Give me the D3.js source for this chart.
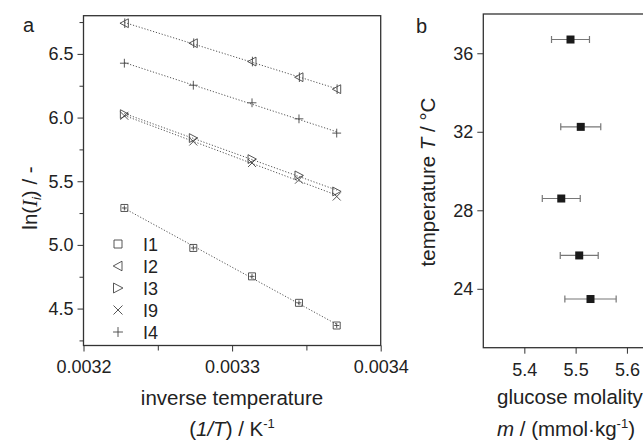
<!DOCTYPE html>
<html>
<head>
    <meta charset="utf-8">
    <title>Inverse temperature and glucose molality</title>
    <script src="https://d3js.org/d3.v7.min.js"></script>
    <style>
        body { margin: 0; background: #fff; }
        text { font-family: "Liberation Sans", Arial, sans-serif; fill: #222; }
    </style>
</head>
<body>
    <div id="chart"></div>
    <script>
        // panel a: ln(I) against 1/T
        const invT = [0.0032275, 0.0032739, 0.0033134, 0.003345, 0.0033704];
        const seriesNames = ["I1", "I2", "I3", "I9", "I4"];
        const lnI1 = [5.29, 4.976, 4.753, 4.545, 4.367];
        const lnI2 = [6.741, 6.584, 6.44, 6.317, 6.223];
        const lnI3 = [6.027, 5.839, 5.674, 5.546, 5.42];
        const lnI9 = [6.014, 5.812, 5.643, 5.512, 5.38];
        const lnI4 = [6.427, 6.254, 6.116, 5.99, 5.878];
        const xTicksA = [0.0032, 0.0033, 0.0034];
        const yTicksA = [4.5, 5.0, 5.5, 6.0, 6.5];

        // panel b: temperature against glucose molality
        const temps = [36.7, 32.25, 28.6, 25.7, 23.48];
        const molality = [5.49, 5.51, 5.472, 5.507, 5.529];
        const molalityErr = [0.037, 0.039, 0.037, 0.037, 0.05];
        const xTicksB = [5.4, 5.5, 5.6];
        const yTicksB = [24, 28, 32, 36];

        const seriesValues = [lnI1, lnI2, lnI3, lnI9, lnI4];
        const symbols = ["square", "left", "right", "cross", "plus"];

        const TICK_FONT = "18px";
        const TITLE_FONT = "20.5px";

        const svg = d3.select("#chart").append("svg")
            .attr("width", 643)
            .attr("height", 441);

        // ---------- panel a ----------
        const xa = d3.scaleLinear().domain([0.0032, 0.0034]).range([83.5, 380.7]);
        const ya = d3.scaleLinear().domain([4.21, 6.8]).range([345.5, 15.7]);

        const ga = svg.append("g");

        // minor ticks
        ga.append("g")
            .attr("transform", "translate(0,345.5)")
            .call(d3.axisBottom(xa).tickValues([0.00325, 0.00335]).tickSize(5).tickFormat(""))
            .call(g => g.select(".domain").remove());
        ga.append("g")
            .attr("transform", "translate(83.5,0)")
            .call(d3.axisLeft(ya).tickValues([4.25, 4.75, 5.25, 5.75, 6.25, 6.75]).tickSize(4).tickFormat(""))
            .call(g => g.select(".domain").remove());

        const axA = ga.append("g")
            .attr("transform", "translate(0,345.5)")
            .call(d3.axisBottom(xa).tickValues(xTicksA).tickSize(6).tickPadding(9).tickFormat(d3.format(".4f")));
        const ayA = ga.append("g")
            .attr("transform", "translate(83.5,0)")
            .call(d3.axisLeft(ya).tickValues(yTicksA).tickSize(6).tickPadding(4).tickFormat(d3.format(".1f")));
        [axA, ayA].forEach(a => {
            a.select(".domain").remove();
            a.selectAll("text").style("font-size", TICK_FONT).attr("fill", "#222")
                .style("font-family", "'Liberation Sans', Arial, sans-serif");
        });
        ga.selectAll(".tick line").attr("stroke", "#333");

        ga.append("rect")
            .attr("x", xa.range()[0]).attr("y", ya.range()[1])
            .attr("width", xa.range()[1] - xa.range()[0])
            .attr("height", ya.range()[0] - ya.range()[1])
            .attr("fill", "none").attr("stroke", "#333").attr("stroke-width", 1.3);

        function symbolPath(kind, s) {
            const h = s / 2;
            const crossIn = `M0,${-h * 0.7}V${h * 0.7}M${-h * 0.7},0H${h * 0.7}`;
            if (kind === "square") return `M${-h},${-h}H${h}V${h}H${-h}Z` + crossIn;
            if (kind === "left") return `M${-h * 1.1},0L${h},${-h * 1.1}L${h},${h * 1.1}Z` + `M${h * 0.1},${-h * 1.2}V${h * 1.2}`;
            if (kind === "right") return `M${h * 1.1},0L${-h},${-h * 1.1}L${-h},${h * 1.1}Z`;
            if (kind === "cross") return `M${-h},${-h}L${h},${h}M${-h},${h}L${h},${-h}`;
            return `M${-h * 1.1},0H${h * 1.1}M0,${-h * 1.1}V${h * 1.1}`;
        }

        // fitted dotted lines
        seriesValues.forEach(vals => {
            const mx = d3.mean(invT), my = d3.mean(vals);
            const slope = d3.sum(invT, (x, i) => (x - mx) * (vals[i] - my)) /
                d3.sum(invT, x => (x - mx) * (x - mx));
            const x0 = invT[0], x1 = invT[invT.length - 1];
            ga.append("line")
                .attr("x1", xa(x0)).attr("y1", ya(my + slope * (x0 - mx)))
                .attr("x2", xa(x1)).attr("y2", ya(my + slope * (x1 - mx)))
                .attr("stroke", "#555").attr("stroke-width", 1)
                .attr("stroke-dasharray", "1.2,1.8");
        });

        seriesValues.forEach((vals, k) => {
            const sz = symbols[k] === "square" ? 7 : 8;
            ga.selectAll(null)
                .data(vals)
                .enter()
                .append("path")
                .attr("transform", (d, i) => `translate(${xa(invT[i])},${ya(d)})`)
                .attr("d", symbolPath(symbols[k], sz))
                .attr("fill", "none")
                .attr("stroke", "#444")
                .attr("stroke-width", 0.9);
        });

        // legend
        const leg = ga.append("g");
        seriesNames.forEach((name, k) => {
            const y = 244 + k * 22;
            const kind = symbols[k];
            let d;
            const h = 4;
            if (kind === "square") d = `M${-h},${-h}H${h}V${h}H${-h}Z`;
            else if (kind === "left") d = `M${-h * 1.2},0L${h},${-h * 1.2}L${h},${h * 1.2}Z`;
            else d = symbolPath(kind, 9);
            leg.append("path")
                .attr("transform", `translate(118,${y})`)
                .attr("d", d)
                .attr("fill", "none").attr("stroke", "#444").attr("stroke-width", 0.9);
            leg.append("text")
                .attr("x", 143).attr("y", y + 6.5)
                .style("font-size", "18px")
                .text(name);
        });

        svg.append("text").attr("x", 23).attr("y", 32).style("font-size", "20px").text("a");

        const yTitleA = svg.append("text")
            .attr("transform", "translate(37,198) rotate(-90)")
            .attr("text-anchor", "middle")
            .style("font-size", TITLE_FONT);
        yTitleA.append("tspan").text("ln(");
        yTitleA.append("tspan").style("font-style", "italic").style("font-family", "'Liberation Serif', serif").text("I");
        yTitleA.append("tspan").attr("dy", 4).style("font-size", "13px").style("font-style", "italic").text("i");
        yTitleA.append("tspan").attr("dy", -4).text(") / -");

        svg.append("text")
            .attr("x", 232).attr("y", 405)
            .attr("text-anchor", "middle")
            .style("font-size", TITLE_FONT)
            .text("inverse temperature");
        const xTitleA2 = svg.append("text")
            .attr("x", 232).attr("y", 436)
            .attr("text-anchor", "middle")
            .style("font-size", TITLE_FONT);
        xTitleA2.append("tspan").text("(");
        xTitleA2.append("tspan").style("font-style", "italic").text("1/T");
        xTitleA2.append("tspan").text(") / K");
        xTitleA2.append("tspan").attr("dy", -8).style("font-size", "13px").text("-1");

        // ---------- panel b ----------
        const xb = d3.scaleLinear().domain([5.32, 5.66]).range([483.3, 657.7]);
        const yb = d3.scaleLinear().domain([21, 38]).range([347.7, 14]);

        const gb = svg.append("g");
        const axB = gb.append("g")
            .attr("transform", "translate(0,347.7)")
            .call(d3.axisBottom(xb).tickValues(xTicksB).tickSize(6).tickPadding(10).tickFormat(d3.format(".1f")));
        const ayB = gb.append("g")
            .attr("transform", "translate(483.3,0)")
            .call(d3.axisLeft(yb).tickValues(yTicksB).tickSize(6).tickPadding(4).tickFormat(d3.format("d")));
        [axB, ayB].forEach(a => {
            a.select(".domain").remove();
            a.selectAll("text").style("font-size", TICK_FONT).attr("fill", "#222")
                .style("font-family", "'Liberation Sans', Arial, sans-serif");
        });
        gb.selectAll(".tick line").attr("stroke", "#333");

        gb.append("rect")
            .attr("x", xb.range()[0]).attr("y", yb.range()[1])
            .attr("width", xb.range()[1] - xb.range()[0])
            .attr("height", yb.range()[0] - yb.range()[1])
            .attr("fill", "none").attr("stroke", "#333").attr("stroke-width", 1.3);

        const pts = gb.selectAll("g.pt")
            .data(temps)
            .enter()
            .append("g")
            .attr("class", "pt");
        pts.append("line")
            .attr("x1", (d, i) => xb(molality[i] - molalityErr[i]))
            .attr("x2", (d, i) => xb(molality[i] + molalityErr[i]))
            .attr("y1", d => yb(d)).attr("y2", d => yb(d))
            .attr("stroke", "#777").attr("stroke-width", 1.2);
        [-1, 1].forEach(sgn => {
            pts.append("line")
                .attr("x1", (d, i) => xb(molality[i] + sgn * molalityErr[i]))
                .attr("x2", (d, i) => xb(molality[i] + sgn * molalityErr[i]))
                .attr("y1", d => yb(d) - 3.5).attr("y2", d => yb(d) + 3.5)
                .attr("stroke", "#777").attr("stroke-width", 1.2);
        });
        pts.append("rect")
            .attr("x", (d, i) => xb(molality[i]) - 4)
            .attr("y", d => yb(d) - 4)
            .attr("width", 8).attr("height", 8)
            .attr("fill", "#1a1a1a");

        svg.append("text").attr("x", 416).attr("y", 33).style("font-size", "20px").text("b");

        const yTitleB = svg.append("text")
            .attr("transform", "translate(435,182) rotate(-90)")
            .attr("text-anchor", "middle")
            .style("font-size", TITLE_FONT);
        yTitleB.append("tspan").text("temperature ");
        yTitleB.append("tspan").style("font-style", "italic").text("T");
        yTitleB.append("tspan").text(" / °C");

        // the reference crops these two lines at the right edge
        svg.append("text")
            .attr("x", 497).attr("y", 404)
            .style("font-size", TITLE_FONT)
            .text("glucose molality");
        const xTitleB2 = svg.append("text")
            .attr("x", 497).attr("y", 436)
            .style("font-size", TITLE_FONT);
        xTitleB2.append("tspan").style("font-style", "italic").text("m");
        xTitleB2.append("tspan").text(" / (mmol·kg");
        xTitleB2.append("tspan").attr("dy", -8).style("font-size", "13px").text("-1");
        xTitleB2.append("tspan").attr("dy", 8).text(")");
    </script>
</body>
</html>
